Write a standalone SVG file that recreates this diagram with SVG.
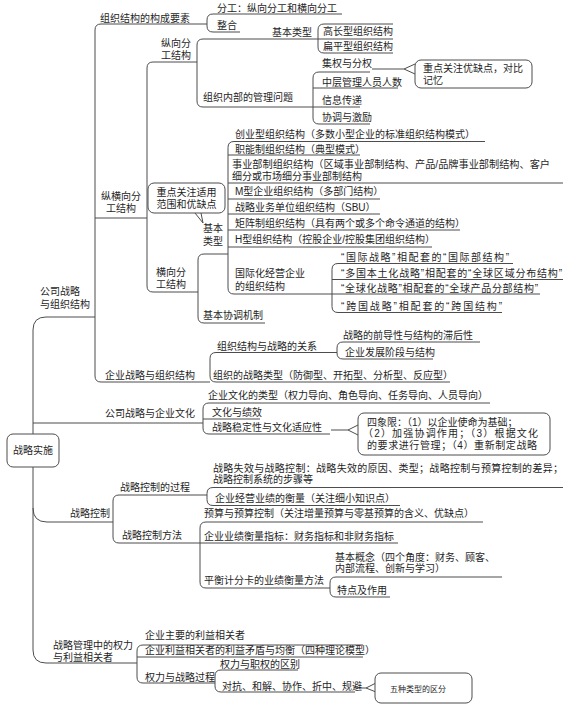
<svg xmlns="http://www.w3.org/2000/svg" width="580" height="705" viewBox="0 0 580 705">
<style>
.ln{fill:none;stroke:#4d4d4d;stroke-width:1}
.bx{fill:#fff;stroke:#4d4d4d;stroke-width:1}
text{font-family:"Liberation Sans","Noto Sans CJK SC",sans-serif;font-size:10px;fill:#1e1e1e}
.m{text-anchor:middle}
.s{font-size:8px}
</style>
<rect x="0" y="0" width="580" height="705" fill="#fff"/>
<g id="connectors">
<path class="ln" d="M95 317H46Q33 317 33 330V434"/>
<path class="ln" d="M33 467V650Q33 663 46 663H137"/>
<path class="ln" d="M33 423H203"/>
<path class="ln" d="M33 508Q33 522 47 522H113"/>
<path class="ln" d="M207 24H101Q95 24 95 30V376Q95 382 101 382H210"/>
<path class="ln" d="M95 218H147"/>
<path class="ln" d="M342 14H213Q207 14 207 20V26Q207 32 213 32H240"/>
<path class="ln" d="M197 62H153Q147 62 147 68V286Q147 292 153 292H198"/>
<path class="ln" d="M393 39H203Q197 39 197 45V101Q197 107 203 107H360"/>
<path class="ln" d="M393 24H324Q318 24 318 30V47Q318 53 324 53H393"/>
<path class="ln" d="M370 72H319Q313 72 313 78V118Q313 124 319 124H370"/>
<path class="ln" d="M313 88H398"/>
<path class="ln" d="M372 69H404L415 64M404 69L415 74"/>
<path class="ln" d="M228 254H204Q198 254 198 260V317Q198 323 204 323H265"/>
<path class="ln" d="M485 141.5H234Q228 141.5 228 147.5V288Q228 294 234 294H332"/>
<path class="ln" d="M228 155H360M228 183H563M228 199H380M228 214H380M228 230H460M228 247H432"/>
<path class="ln" d="M513 263.5H338Q332 263.5 332 269.5V306.5Q332 312.5 338 312.5H502"/>
<path class="ln" d="M332 279.5H563M332 294H540"/>
<path class="ln" d="M337 352.5H216Q210 352.5 210 358.5V376Q210 382 216 382H450"/>
<path class="ln" d="M480 342H343Q337 342 337 348V353Q337 359 343 359H433"/>
<path class="ln" d="M490 403H209Q203 403 203 409V428Q203 434 209 434H330"/>
<path class="ln" d="M203 419H260"/>
<path class="ln" d="M331 430H348L358 425M348 430L358 435"/>
<path class="ln" d="M207 495H119Q113 495 113 501V537Q113 543 119 543H200"/>
<path class="ln" d="M563 487.5H213Q207 487.5 207 493.5V499.5Q207 505.5 213 505.5H400"/>
<path class="ln" d="M483 522H206Q200 522 200 528V582Q200 588 206 588H330"/>
<path class="ln" d="M200 543H398"/>
<path class="ln" d="M502 577H336Q330 577 330 583V591Q330 597 336 597H390"/>
<path class="ln" d="M363 645H143Q137 645 137 651V677Q137 683 143 683H215"/>
<path class="ln" d="M137 657H363"/>
<path class="ln" d="M298 670H221Q215 670 215 676V686Q215 692 221 692H355"/>
<path class="ln" d="M356 688H366L376 683M366 688L376 692"/>
</g>
<g id="n-root"><rect class="bx" x="7" y="434" width="52" height="33" rx="6"/><text class="m" x="33" y="454">战略实施</text></g>
<g id="n-gszl"><text x="40" y="294.5">公司战略</text><text x="40" y="307.5">与组织结构</text></g>
<g id="n-gcys"><text x="100" y="21.5">组织结构的构成要素</text></g>
<g id="n-fg"><text x="217" y="11.5">分工：纵向分工和横向分工</text></g>
<g id="n-zh"><text x="217" y="28.5">整合</text></g>
<g id="n-zhx"><text class="m" x="121" y="200">纵横向分</text><text class="m" x="121" y="212">工结构</text></g>
<g id="n-zx"><text class="m" x="176" y="46.5">纵向分</text><text class="m" x="176" y="58.5">工结构</text></g>
<g id="n-jblx1"><text x="272" y="36">基本类型</text></g>
<g id="n-gcx"><text x="323" y="35">高长型组织结构</text></g>
<g id="n-bpx"><text x="323" y="50">扁平型组织结构</text></g>
<g id="n-nbgl"><text x="203" y="100.5">组织内部的管理问题</text></g>
<g id="n-jq"><text x="322" y="66.5">集权与分权</text></g>
<g id="n-zc"><text x="322" y="85.5">中层管理人员人数</text></g>
<g id="n-xx"><text x="322" y="103.5">信息传递</text></g>
<g id="n-xt"><text x="322" y="120.5">协调与激励</text></g>
<g id="c-ydq"><rect class="bx" x="415" y="60" width="117" height="28" rx="6"/><text x="423" y="71.5">重点关注优缺点，对比</text><text x="423" y="83.5">记忆</text></g>
<g id="c-syfw"><rect class="bx" x="148" y="183" width="77" height="30" rx="6"/><text class="m" x="186.5" y="195.5">重点关注适用</text><text class="m" x="186.5" y="207.5">范围和优缺点</text><path class="ln" d="M195 213L203 223L201 213"/></g>
<g id="n-hx"><text class="m" x="171" y="275.5">横向分</text><text class="m" x="171" y="287.5">工结构</text></g>
<g id="n-jblx2"><text x="203" y="232">基本</text><text x="203" y="245">类型</text></g>
<g id="n-cy"><text x="235" y="138">创业型组织结构（多数小型企业的标准组织结构模式）</text></g>
<g id="n-zn"><text x="235" y="153">职能制组织结构（典型模式）</text></g>
<g id="n-sybz"><text x="232" y="167.5" textLength="318" lengthAdjust="spacingAndGlyphs">事业部制组织结构（区域事业部制结构、产品/品牌事业部制结构、客户</text><text x="232" y="180">细分或市场细分事业部制结构</text></g>
<g id="n-mx"><text x="235" y="195">M型企业组织结构（多部门结构）</text></g>
<g id="n-sbu"><text x="235" y="210.5">战略业务单位组织结构（SBU）</text></g>
<g id="n-jz"><text x="235" y="226.5">矩阵制组织结构（具有两个或多个命令通道的结构）</text></g>
<g id="n-hxz"><text x="235" y="242.5">H型组织结构（控股企业/控股集团组织结构）</text></g>
<g id="n-gjh"><text x="235" y="277">国际化经营企业</text><text x="235" y="289.5">的组织结构</text></g>
<g id="n-gj1"><text x="341" y="260.5" textLength="168" lengthAdjust="spacing">“国际战略”相配套的“国际部结构”</text></g>
<g id="n-gj2"><text x="341" y="276.5" textLength="221" lengthAdjust="spacing">“多国本土化战略”相配套的“全球区域分布结构”</text></g>
<g id="n-gj3"><text x="341" y="292" textLength="197" lengthAdjust="spacing">“全球化战略”相配套的“全球产品分部结构”</text></g>
<g id="n-gj4"><text x="341" y="309.5" textLength="161" lengthAdjust="spacing">“跨国战略”相配套的“跨国结构”</text></g>
<g id="n-xtjz"><text x="203" y="319">基本协调机制</text></g>
<g id="n-qyzl"><text x="105" y="378.5">企业战略与组织结构</text></g>
<g id="n-gx"><text x="217" y="349.5">组织结构与战略的关系</text></g>
<g id="n-qdx"><text x="343" y="338.5">战略的前导性与结构的滞后性</text></g>
<g id="n-fzjd"><text x="345" y="355.5">企业发展阶段与结构</text></g>
<g id="n-zllx"><text x="213" y="378.5">组织的战略类型（防御型、开拓型、分析型、反应型）</text></g>
<g id="n-qywh"><text x="105" y="416.5">公司战略与企业文化</text></g>
<g id="n-whlx"><text x="208" y="398.5">企业文化的类型（权力导向、角色导向、任务导向、人员导向）</text></g>
<g id="n-jx"><text x="212" y="416">文化与绩效</text></g>
<g id="n-wdx"><text x="212" y="431">战略稳定性与文化适应性</text></g>
<g id="c-sxx"><rect class="bx" x="358" y="413" width="192" height="42" rx="6"/><text x="367" y="425.5">四象限：（1）以企业使命为基础；</text><text x="363" y="437" textLength="175" lengthAdjust="spacing">（2）加强协调作用；（3）根据文化</text><text x="367" y="448.5" textLength="170" lengthAdjust="spacing">的要求进行管理；（4）重新制定战略</text></g>
<g id="n-zlkz"><text x="70" y="516.5">战略控制</text></g>
<g id="n-gc"><text x="120" y="490.5">战略控制的过程</text></g>
<g id="n-sx"><text x="213" y="471.5" textLength="350" lengthAdjust="spacing">战略失效与战略控制：战略失效的原因、类型；战略控制与预算控制的差异；</text><text x="213" y="483">战略控制系统的步骤等</text></g>
<g id="n-hl"><text x="215" y="501.5">企业经营业绩的衡量（关注细小知识点）</text></g>
<g id="n-ff"><text x="122" y="538.5">战略控制方法</text></g>
<g id="n-ys"><text x="204" y="517">预算与预算控制（关注增量预算与零基预算的含义、优缺点）</text></g>
<g id="n-zb"><text x="204" y="540">企业业绩衡量指标：财务指标和非财务指标</text></g>
<g id="n-phjf"><text x="204" y="583.5">平衡计分卡的业绩衡量方法</text></g>
<g id="n-jbgn"><text x="335" y="560.5">基本概念（四个角度：财务、顾客、</text><text x="335" y="572">内部流程、创新与学习）</text></g>
<g id="n-td"><text x="337" y="593.5">特点及作用</text></g>
<g id="n-ql"><text x="53" y="648.5">战略管理中的权力</text><text x="53" y="660.5">与利益相关者</text></g>
<g id="n-zy"><text x="145" y="638.5">企业主要的利益相关者</text></g>
<g id="n-md"><text x="145" y="653.5">企业利益相关者的利益矛盾与均衡（四种理论模型）</text></g>
<g id="n-qlgc"><text x="145" y="680.5">权力与战略过程</text></g>
<g id="n-zq"><text x="220" y="667.5">权力与职权的区别</text></g>
<g id="n-dk"><text x="222" y="690">对抗、和解、协作、折中、规避</text></g>
<g id="c-wz"><rect class="bx" x="375" y="673" width="97" height="30" rx="6"/><text class="s" x="390" y="691.5">五种类型的区分</text></g>
</svg>
